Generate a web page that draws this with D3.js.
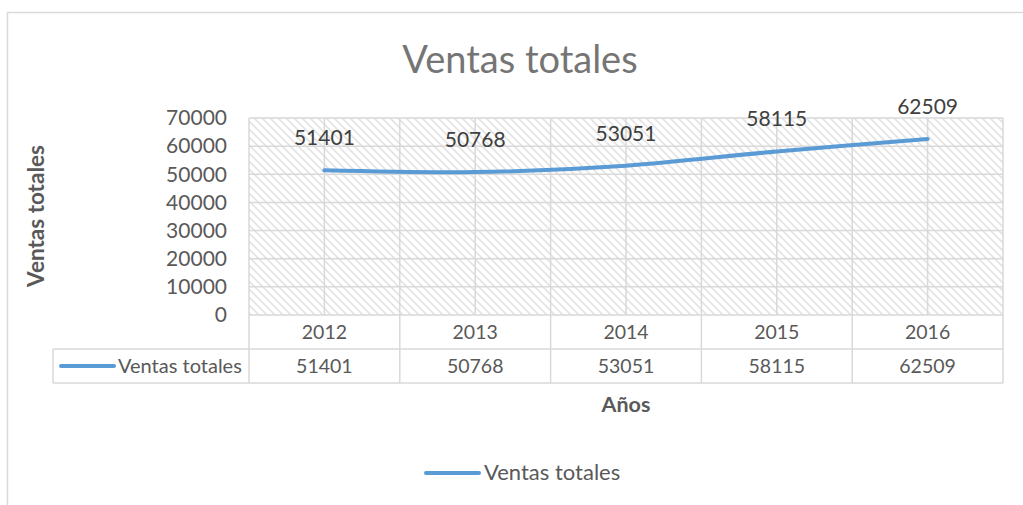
<!DOCTYPE html>
<html>
<head>
<meta charset="utf-8">
<script src="https://cdn.jsdelivr.net/npm/d3@7"></script>
<style>
  body { margin: 0; background: #fff; }
  svg text { font-family: Lato, "Open Sans", sans-serif; }
</style>
</head>
<body>
<div id="chart"></div>
<script>
// datos del grafico
const YEARS = ["2012", "2013", "2014", "2015", "2016"];
const VENTAS = [51401, 50768, 53051, 58115, 62509];
const Y_TICKS = [0, 10000, 20000, 30000, 40000, 50000, 60000, 70000];
const SERIES_NAME = "Ventas totales";
const TITLE = "Ventas totales";
const Y_TITLE = "Ventas totales";
const X_TITLE = "Años";

const WIDTH = 1023;
const HEIGHT = 505;
const LINE_COLOR = "#5B9BD5";
const GRID_COLOR = "#D9D9D9";
const TEXT_COLOR = "#595959";

const PLOT = { left: 249, right: 1003, top: 118, bottom: 315 };
const ROW_H = 34;

const svg = d3.select("#chart").append("svg")
  .attr("width", WIDTH)
  .attr("height", HEIGHT);

// hatch pattern
const defs = svg.append("defs");
defs.append("pattern")
  .attr("id", "hatch")
  .attr("patternUnits", "userSpaceOnUse")
  .attr("width", 8)
  .attr("height", 8)
  .append("path")
  .attr("d", "M-2,6 l4,4 M0,0 l8,8 M6,-2 l4,4")
  .attr("stroke", "#E4E4E4")
  .attr("stroke-width", 1.8);

// chart border
svg.append("rect")
  .attr("x", 7.5).attr("y", 12.5)
  .attr("width", WIDTH + 10).attr("height", HEIGHT + 10)
  .attr("fill", "#fff")
  .attr("stroke", GRID_COLOR)
  .attr("stroke-width", 1.5);

const x = d3.scaleBand()
  .domain(YEARS)
  .range([PLOT.left, PLOT.right]);

const y = d3.scaleLinear()
  .domain([0, 70000])
  .range([PLOT.bottom, PLOT.top]);

// plot area
svg.append("rect")
  .attr("x", PLOT.left).attr("y", PLOT.top)
  .attr("width", PLOT.right - PLOT.left)
  .attr("height", PLOT.bottom - PLOT.top)
  .attr("fill", "url(#hatch)");

// horizontal gridlines
svg.append("g")
  .selectAll("line")
  .data(Y_TICKS)
  .join("line")
  .attr("x1", PLOT.left).attr("x2", PLOT.right)
  .attr("y1", d => y(d)).attr("y2", d => y(d))
  .attr("stroke", GRID_COLOR)
  .attr("stroke-width", 1.5);

// vertical gridlines: bordes y centros de categoria
const vLines = [];
YEARS.forEach(d => {
  vLines.push(x(d));
  vLines.push(x(d) + x.bandwidth() / 2);
});
vLines.push(PLOT.right);
svg.append("g")
  .selectAll("line")
  .data(vLines)
  .join("line")
  .attr("x1", d => d).attr("x2", d => d)
  .attr("y1", PLOT.top).attr("y2", PLOT.bottom)
  .attr("stroke", GRID_COLOR)
  .attr("stroke-width", 1.5);

// y axis
const yAxis = svg.append("g")
  .attr("transform", `translate(${PLOT.left - 22},0)`)
  .call(d3.axisLeft(y).tickValues(Y_TICKS).tickSize(0).tickPadding(0).tickFormat(d3.format("d")));
yAxis.select(".domain").remove();
yAxis.selectAll("text")
  .attr("fill", TEXT_COLOR)
  .style("font-size", "21px");

// line
const line = d3.line()
  .x((d, i) => x(YEARS[i]) + x.bandwidth() / 2)
  .y(d => y(d))
  .curve(d3.curveCatmullRom.alpha(0.5));

svg.append("path")
  .datum(VENTAS)
  .attr("d", line)
  .attr("fill", "none")
  .attr("stroke", LINE_COLOR)
  .attr("stroke-width", 4)
  .attr("stroke-linecap", "round");

// data labels
svg.append("g")
  .selectAll("text")
  .data(VENTAS)
  .join("text")
  .attr("x", (d, i) => x(YEARS[i]) + x.bandwidth() / 2)
  .attr("y", d => y(d) - 25)
  .attr("text-anchor", "middle")
  .attr("fill", "#404040")
  .style("font-size", "21px")
  .text(d => d);

// data table
const table = svg.append("g");
const tableLeft = 53;
const row1 = PLOT.bottom;
const row2 = PLOT.bottom + ROW_H;
const row3 = PLOT.bottom + 2 * ROW_H;

table.append("line")
  .attr("x1", PLOT.left).attr("x2", PLOT.right)
  .attr("y1", row2).attr("y2", row2);
table.append("line")
  .attr("x1", tableLeft).attr("x2", PLOT.left)
  .attr("y1", row2).attr("y2", row2);
table.append("line")
  .attr("x1", tableLeft).attr("x2", PLOT.right)
  .attr("y1", row3).attr("y2", row3);
table.append("line")
  .attr("x1", tableLeft).attr("x2", tableLeft)
  .attr("y1", row2).attr("y2", row3);
table.selectAll(".vcell")
  .data(YEARS.map(d => x(d)).concat([PLOT.right]))
  .join("line")
  .attr("class", "vcell")
  .attr("x1", d => d).attr("x2", d => d)
  .attr("y1", row1).attr("y2", row3);
table.selectAll("line")
  .attr("stroke", GRID_COLOR)
  .attr("stroke-width", 1.5);

table.selectAll(".cat")
  .data(YEARS)
  .join("text")
  .attr("class", "cat")
  .attr("x", d => x(d) + x.bandwidth() / 2)
  .attr("y", row1 + 24)
  .attr("text-anchor", "middle")
  .attr("fill", TEXT_COLOR)
  .style("font-size", "19.5px")
  .text(d => d);

table.selectAll(".val")
  .data(VENTAS)
  .join("text")
  .attr("class", "val")
  .attr("x", (d, i) => x(YEARS[i]) + x.bandwidth() / 2)
  .attr("y", row2 + 24)
  .attr("text-anchor", "middle")
  .attr("fill", TEXT_COLOR)
  .style("font-size", "19.5px")
  .text(d => d);

table.append("line")
  .attr("x1", 61).attr("x2", 114)
  .attr("y1", row2 + 17).attr("y2", row2 + 17)
  .attr("stroke", LINE_COLOR)
  .attr("stroke-width", 4)
  .attr("stroke-linecap", "round");
table.append("text")
  .attr("x", 118)
  .attr("y", row2 + 24)
  .attr("fill", TEXT_COLOR)
  .style("font-size", "20px")
  .text(SERIES_NAME);

// titles
svg.append("text")
  .attr("x", 520)
  .attr("y", 73)
  .attr("text-anchor", "middle")
  .attr("fill", "#757575")
  .style("font-size", "38px")
  .text(TITLE);

svg.append("text")
  .attr("transform", `translate(44,216) rotate(-90)`)
  .attr("text-anchor", "middle")
  .attr("fill", TEXT_COLOR)
  .style("font-size", "22.5px")
  .style("font-weight", "bold")
  .text(Y_TITLE);

svg.append("text")
  .attr("x", (PLOT.left + PLOT.right) / 2)
  .attr("y", 412)
  .attr("text-anchor", "middle")
  .attr("fill", TEXT_COLOR)
  .style("font-size", "21.5px")
  .style("font-weight", "bold")
  .text(X_TITLE);

// legend
const legend = svg.append("g");
legend.append("line")
  .attr("x1", 426).attr("x2", 479)
  .attr("y1", 473).attr("y2", 473)
  .attr("stroke", LINE_COLOR)
  .attr("stroke-width", 4)
  .attr("stroke-linecap", "round");
legend.append("text")
  .attr("x", 484)
  .attr("y", 480)
  .attr("fill", TEXT_COLOR)
  .style("font-size", "22px")
  .text(SERIES_NAME);
</script>
</body>
</html>
